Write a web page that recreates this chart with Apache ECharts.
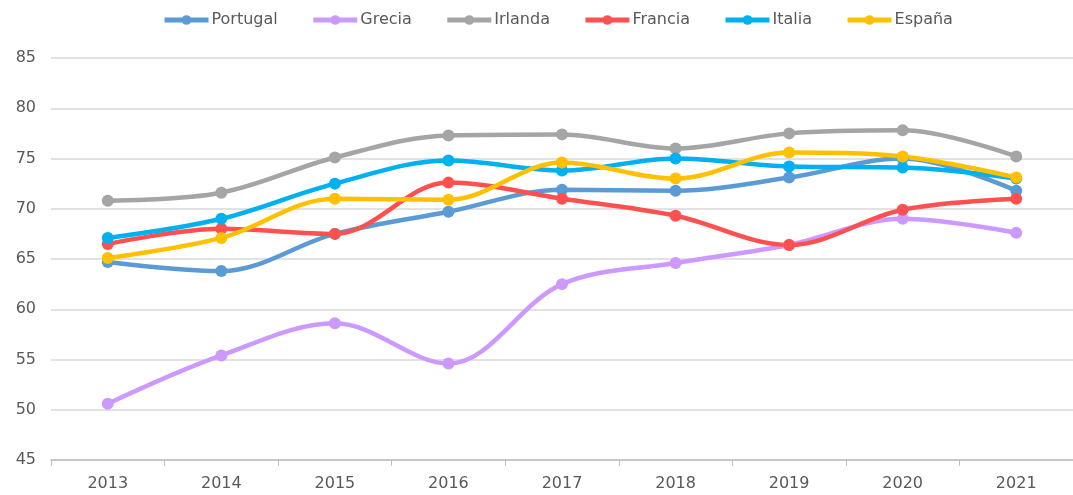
<!DOCTYPE html>
<html><head><meta charset="utf-8">
<script src="https://cdn.jsdelivr.net/npm/echarts@6/dist/echarts.min.js"></script>
<style>html,body{margin:0;padding:0;background:#fff}#c{width:1073px;height:495px}</style>
</head><body><div id="c"></div>
<script>
const years = ['2013','2014','2015','2016','2017','2018','2019','2020','2021'];
const portugal = [64.7, 63.8, 67.5, 69.7, 71.9, 71.8, 73.1, 75.0, 71.8];
const grecia   = [50.6, 55.4, 58.6, 54.6, 62.5, 64.6, 66.4, 69.0, 67.6];
const irlanda  = [70.8, 71.6, 75.1, 77.3, 77.4, 76.0, 77.5, 77.8, 75.2];
const francia  = [66.5, 68.0, 67.5, 72.6, 71.0, 69.3, 66.4, 69.9, 71.0];
const italia   = [67.1, 69.0, 72.5, 74.8, 73.8, 75.0, 74.2, 74.1, 73.0];
const espana   = [65.1, 67.1, 71.0, 70.9, 74.6, 73.0, 75.6, 75.2, 73.1];
const names = ['Portugal','Grecia','Irlanda','Francia','Italia','España'];
const colors = ['#5B9BD5','#CC99FF','#A5A5A5','#FF5050','#00B0F0','#FFC000'];
const datasets = [portugal, grecia, irlanda, francia, italia, espana];

const chart = echarts.init(document.getElementById('c'));
const font = '"DejaVu Sans", sans-serif';
chart.setOption({
  animation: false,
  textStyle: {fontFamily: font},
  legend: {
    top: 7, left: 157, itemWidth: 44, itemHeight: 12, itemGap: 33,
    lineStyle: {width: 5},
    textStyle: {fontSize: 16, color: '#595959', fontFamily: font, padding: [0,0,0,-2]},
    data: names
  },
  grid: {left: 51, top: 58, width: 1029, bottom: 35, containLabel: false},
  xAxis: {
    type: 'category', data: years, boundaryGap: true,
    axisLine: {lineStyle: {color: '#BFBFBF', width: 1.5}},
    axisTick: {show: true, length: 6, lineStyle: {color: '#BFBFBF'}},
    axisLabel: {fontSize: 16, color: '#595959', margin: 16, fontFamily: font}
  },
  yAxis: {
    type: 'value', min: 45, max: 85, interval: 5,
    axisLine: {show: false}, axisTick: {show: false},
    axisLabel: {fontSize: 16, color: '#595959', margin: 15, fontFamily: font},
    splitLine: {lineStyle: {color: '#D9D9D9', width: 1.5}}
  },
  series: names.map((n, i) => ({
    name: n, type: 'line', data: datasets[i], smooth: 0.35,
    symbol: 'circle', symbolSize: 12,
    lineStyle: {width: 4.5, color: colors[i]},
    itemStyle: {color: colors[i]}
  }))
});
</script></body></html>
